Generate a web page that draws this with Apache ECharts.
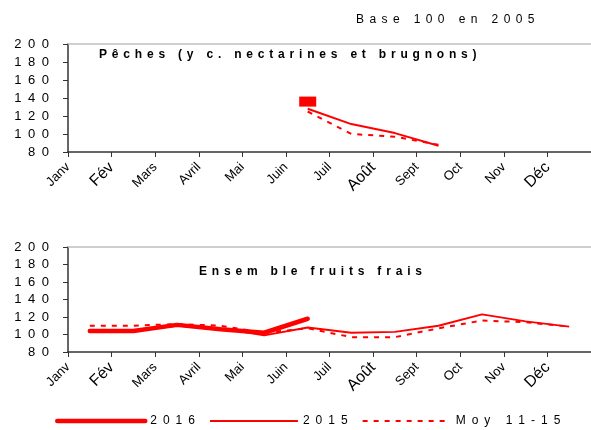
<!DOCTYPE html>
<html><head><meta charset="utf-8">
<script src="https://cdn.jsdelivr.net/npm/echarts@6/dist/echarts.min.js"></script>
<style>html,body{margin:0;padding:0;background:#fff}#c{width:591px;height:430px}</style>
</head><body><div id="c"></div>
<script>
const months = ['Janv','Fév','Mars','Avril','Mai','Juin','Juil','Août','Sept','Oct','Nov','Déc'];
const bigMonths = ['Fév','Août','Déc'];
const seriesNames = ['2016','2015','Moy 11-15'];
const pechesTitle = 'Pêches (y c. nectarines et brugnons)';
const fruitsTitle = 'Ensem ble fruits frais';
const baseNote = 'Base 100 en 2005';
const yMin = 80, yMax = 200, yStep = 20;

const peches2016 = [null,null,null,null,null,136,null,null,null,null,null,null];
const peches2015 = [null,null,null,null,null,128,111,101,87,null,null,null];
const pechesMoy  = [null,null,null,null,null,125,100,97,88,null,null,null];

const fruits2016 = [104,104,111,106,102,118,null,null,null,null,null,null];
const fruits2015 = [104,104,110,107,99,108,102,103,110,123,115,109];
const fruitsMoy  = [110,110,112,110,102,107,97,97,107,116,114,109];

const EN = '\u2002', THIN2 = '\u2009\u2009', MID = '\u2005\u2009';
const spaced = (s, sep) => String(s).split('').join(sep || EN);
const pts = arr => arr.map((v, i) => [i + 0.5, v]);

const FONT = 'Liberation Sans, Arial, sans-serif';
const RED = '#ff0000';

function xAxisFor(gi) {
  return {
    type: 'value', gridIndex: gi, min: 0, max: 12, interval: 1,
    axisLine: {show: true, onZero: false, lineStyle: {color: '#333', width: 1.5}},
    axisTick: {show: true, length: 5, lineStyle: {color: '#333'}},
    splitLine: {show: false},
    axisLabel: {
      rotate: 45, margin: 13, color: '#000', fontFamily: FONT, fontSize: 13,
      showMaxLabel: false,
      formatter: v => { const m = months[v]; if (!m) return ''; return bigMonths.includes(m) ? '{b|' + m + '}' : m; },
      rich: {b: {fontSize: 16, fontFamily: FONT, color: '#000'}}
    }
  };
}
function topLine(gi) {
  return {
    type: 'value', gridIndex: gi, position: 'top', min: 0, max: 12,
    axisLine: {show: true, lineStyle: {color: '#c0c0c0', width: 1.5}},
    axisTick: {show: false}, axisLabel: {show: false}, splitLine: {show: false}
  };
}
function yAxisFor(gi) {
  return {
    type: 'value', gridIndex: gi, min: yMin, max: yMax, interval: yStep,
    axisLine: {show: true, lineStyle: {color: '#333', width: 1.5}},
    axisTick: {show: true, length: 5, lineStyle: {color: '#333'}},
    splitLine: {show: false},
    axisLabel: {color: '#000', fontFamily: FONT, fontSize: 13, margin: 19, formatter: v => spaced(v)}
  };
}
function lineSeries(name, data, xi, yi, kind) {
  const s = {
    name: name, type: 'line', xAxisIndex: xi, yAxisIndex: yi, data: pts(data),
    symbol: 'none', silent: true, animation: false, connectNulls: false,
    lineStyle: {color: RED, width: 2, type: 'solid'}, itemStyle: {color: RED}
  };
  if (kind === 'thick') { s.lineStyle.width = 4.5; s.lineStyle.cap = 'round'; }
  if (kind === 'dash') s.lineStyle.type = [5, 6];
  return s;
}

const chart = echarts.init(document.getElementById('c'), null, {renderer: 'canvas'});
const top2016 = lineSeries(seriesNames[0], peches2016, 0, 0, 'thick');
top2016.symbol = 'rect'; top2016.symbolSize = [17, 10]; top2016.showSymbol = true;

chart.setOption({
  animation: false,
  backgroundColor: '#fff',
  grid: [
    {left: 68, top: 44, width: 527, height: 108},
    {left: 68, top: 247, width: 527, height: 105}
  ],
  xAxis: [xAxisFor(0), xAxisFor(1), topLine(0), topLine(1)],
  yAxis: [yAxisFor(0), yAxisFor(1)],
  title: [
    {text: spaced(baseNote, MID), left: 351, top: 9, textStyle: {fontFamily: FONT, fontSize: 12, fontWeight: 'normal', color: '#000'}},
    {text: spaced(pechesTitle, THIN2), left: 94, top: 44, textStyle: {fontFamily: FONT, fontSize: 12, fontWeight: 'bold', color: '#000'}},
    {text: spaced(fruitsTitle, THIN2), left: 194, top: 261, textStyle: {fontFamily: FONT, fontSize: 12, fontWeight: 'bold', color: '#000'}}
  ],
  legend: {
    left: 50, top: 410, itemWidth: 88, itemHeight: 10, itemGap: 14,
    data: seriesNames,
    formatter: n => spaced(n),
    itemStyle: {opacity: 0},
    lineStyle: {width: 'inherit'},
    textStyle: {fontFamily: FONT, fontSize: 12, color: '#000'}
  },
  series: [
    lineSeries(seriesNames[0], fruits2016, 1, 1, 'thick'),
    lineSeries(seriesNames[1], fruits2015, 1, 1, 'thin'),
    lineSeries(seriesNames[2], fruitsMoy, 1, 1, 'dash'),
    lineSeries(seriesNames[2], pechesMoy, 0, 0, 'dash'),
    lineSeries(seriesNames[1], peches2015, 0, 0, 'thin'),
    top2016
  ]
});
</script></body></html>
